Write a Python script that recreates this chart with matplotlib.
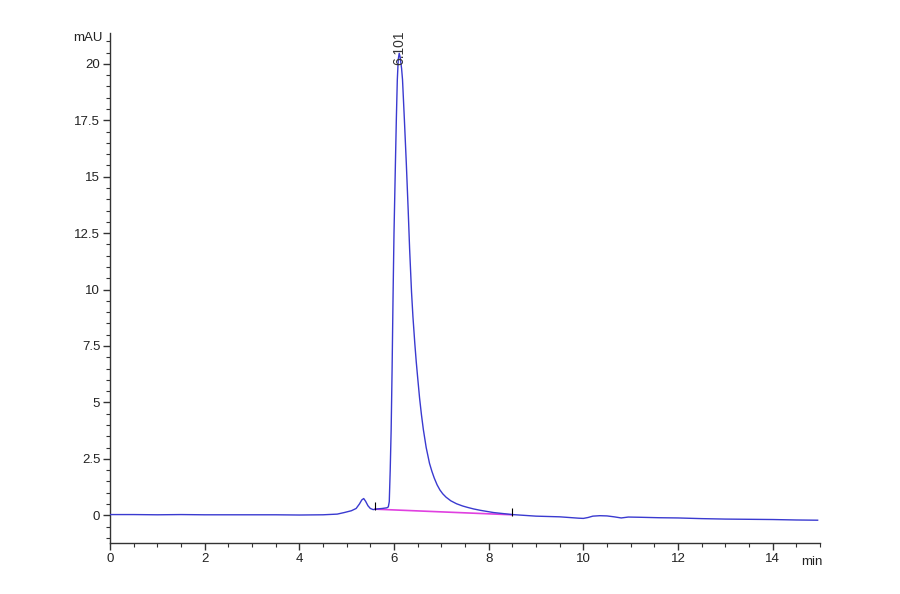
import matplotlib
matplotlib.use("Agg")
import matplotlib.pyplot as plt
from matplotlib.ticker import MultipleLocator, FuncFormatter

# Chromatogram signal (min, mAU)
time_min = [0, 0.5, 1, 1.5, 2, 2.5, 3, 3.5, 4, 4.5, 4.8, 4.95, 5.1, 5.2, 5.27, 5.32,
            5.36, 5.40, 5.45, 5.5, 5.56, 5.65, 5.75, 5.85, 5.88, 5.90, 5.92, 5.94,
            5.96, 5.98, 6.00, 6.03, 6.05, 6.07, 6.09, 6.11, 6.13, 6.16, 6.18, 6.22,
            6.26, 6.30, 6.33, 6.37, 6.40, 6.44, 6.47, 6.50, 6.54, 6.58, 6.62, 6.68,
            6.75, 6.80, 6.85, 6.91, 6.97, 7.03, 7.1, 7.2, 7.32, 7.45, 7.55, 7.68,
            7.82, 8.1, 8.5, 9.0, 9.5, 9.7, 9.9, 10.0, 10.1, 10.2, 10.35,
            10.5, 10.65, 10.8, 10.95, 11.2, 11.6, 12.0, 12.5, 13.0, 13.5, 14.0, 14.5, 14.95]
signal_mau = [0.03, 0.03, 0.02, 0.03, 0.02, 0.02, 0.02, 0.02, 0.01, 0.02, 0.05, 0.12,
              0.2, 0.3, 0.5, 0.68, 0.74, 0.62, 0.42, 0.3, 0.25, 0.28, 0.3, 0.33, 0.37,
              0.6, 2.0, 3.8, 6.5, 9.7, 12.5, 15.6, 17.6, 19.3, 20.2, 20.47, 20.3, 19.8,
              19.3, 17.5, 15.6, 13.5, 11.8, 9.9, 8.8, 7.6, 6.8, 6.1, 5.2, 4.45, 3.8, 3.0,
              2.3, 1.95, 1.65, 1.35, 1.12, 0.95, 0.8, 0.64, 0.51, 0.41, 0.35, 0.28,
              0.22, 0.12, 0.03, -0.04, -0.07, -0.1, -0.13, -0.14, -0.1,
              -0.04, -0.02, -0.03, -0.07, -0.12, -0.08, -0.09, -0.11, -0.12, -0.15,
              -0.17, -0.18, -0.19, -0.21, -0.22]

# Integration baseline
baseline_t = [5.6, 8.5]
baseline_v = [0.27, 0.02]

# Peak annotation
peak_rt = 6.11
peak_height = 20.47
peak_label = "6.101"

x_ticks = [0, 2, 4, 6, 8, 10, 12, 14]
y_ticks = [0, 2.5, 5, 7.5, 10, 12.5, 15, 17.5, 20]

fam = ['Liberation Sans Narrow', 'Liberation Sans', 'DejaVu Sans']
plt.rcParams['font.family'] = fam

fig = plt.figure(figsize=(9, 5.94), dpi=100)
ax = fig.add_axes([110/900, 1-543/594, 710/900, 510/594])

ax.plot(time_min, signal_mau, color='#3a3ad0', lw=1.0, zorder=3)
ax.plot(baseline_t, baseline_v, color='#e040e0', lw=1.2, zorder=2)
for bt, bv in zip(baseline_t, baseline_v):
    ax.vlines(bt, bv - 0.05, bv + 0.3, color='black', lw=0.8, zorder=4)

ax.text(peak_rt, peak_height - 0.5, peak_label, rotation=90, ha='center', va='bottom',
        fontsize=10, color='#333333')

ax.set_xlim(0, 15.0)
ax.set_ylim(-1.23, 21.37)

ax.xaxis.set_minor_locator(MultipleLocator(0.5))
ax.yaxis.set_minor_locator(MultipleLocator(0.5))
ax.set_xticks(x_ticks)
ax.set_yticks(y_ticks)
ax.yaxis.set_major_formatter(FuncFormatter(lambda v, p: f"{v:g}"))

for s in ['top', 'right']:
    ax.spines[s].set_visible(False)
for s in ['left', 'bottom']:
    ax.spines[s].set_color('#333333')
    ax.spines[s].set_linewidth(1.0)

ax.tick_params(axis='both', which='major', length=5, width=1, color='#333333',
               labelsize=9.5, labelcolor='#222222', direction='out')
ax.tick_params(axis='both', which='minor', length=3, width=0.8, color='#333333', direction='out')
ax.tick_params(axis='x', pad=2)
ax.tick_params(axis='y', pad=2)

fig.text(88/900, 1-38/594, "mAU", ha='center', va='center', fontsize=9.5, color='#222222')
fig.text(812/900, 1-562/594, "min", ha='center', va='center', fontsize=9.5, color='#222222')

fig.savefig("out.png", dpi=100, facecolor='white')
